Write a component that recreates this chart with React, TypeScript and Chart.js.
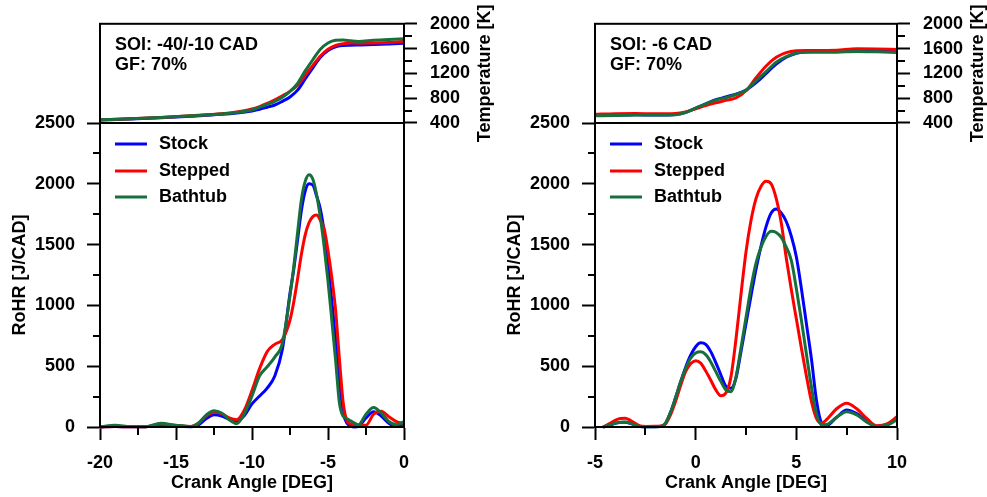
import React, { useEffect, useRef } from 'react';
import { Chart, registerables } from 'chart.js';

Chart.register(...registerables);

const W = 987;
const H = 497;
const FAMILY = "'Liberation Sans', Arial, Helvetica, sans-serif";
const FONT_SIZE = 18;
const FONT = { family: FAMILY, size: FONT_SIZE, weight: 'bold' as const };

const seriesNames = ['Stock', 'Stepped', 'Bathtub'];
const seriesColors = ['#0000FF', '#FF0000', '#17703B'];

// ---------- Left panel: SOI -40/-10 CAD ----------
const leftAngles = [-20, -19, -18, -17, -16, -15, -14, -13.5, -13, -12.5, -12, -11.5, -11, -10.5, -10, -9.5, -9, -8.5, -8, -7.5, -7.25, -7, -6.75, -6.5, -6.25, -6, -5.75, -5.5, -5.25, -5, -4.75, -4.5, -4.25, -4, -3.75, -3.5, -3.25, -3, -2.5, -2, -1.5, -1, -0.5, 0];
const leftStockRoHR = [0, 4, 2, 3, 15, 6, 3, 20, 70, 100, 90, 62, 50, 95, 190, 255, 320, 420, 640, 1100, 1300, 1540, 1780, 1940, 2000, 1990, 1900, 1790, 1600, 1330, 1040, 720, 380, 120, 30, 8, 0, 5, 75, 125, 90, 30, 5, 30];
const leftSteppedRoHR = [0, 4, 2, 2, 25, 12, 5, 30, 90, 122, 110, 75, 60, 140, 300, 480, 620, 680, 720, 880, 1030, 1220, 1420, 1580, 1680, 1730, 1743, 1700, 1630, 1450, 1230, 960, 560, 200, 50, 25, 18, 15, 15, 105, 130, 85, 45, 30];
const leftBathtubRoHR = [0, 14, 4, 3, 30, 15, 5, 35, 100, 134, 115, 60, 28, 110, 255, 420, 495, 575, 690, 1080, 1320, 1600, 1870, 2020, 2075, 2040, 1910, 1720, 1480, 1200, 880, 550, 200, 88, 68, 50, 32, 18, 105, 160, 115, 45, 18, 45];

const leftTempAngles = [-20, -18, -16, -14, -12, -11, -10, -9.5, -9, -8.5, -8, -7.5, -7, -6.5, -6, -5.5, -5, -4.5, -4, -3.5, -3, -2, -1, 0];
const leftStockTemp = [448, 465, 485, 510, 540, 562, 595, 620, 655, 690, 750, 820, 930, 1110, 1290, 1460, 1570, 1630, 1650, 1655, 1658, 1665, 1675, 1687];
const leftSteppedTemp = [451, 468, 490, 518, 550, 578, 625, 665, 715, 775, 840, 910, 1010, 1170, 1330, 1480, 1590, 1650, 1680, 1690, 1688, 1690, 1700, 1719];
const leftBathtubTemp = [451, 468, 490, 515, 545, 570, 610, 655, 700, 750, 815, 910, 1040, 1240, 1420, 1590, 1690, 1735, 1740, 1725, 1715, 1735, 1748, 1757];

// ---------- Right panel: SOI -6 CAD ----------
const rightAngles = [-4.6, -4.25, -4, -3.75, -3.5, -3.25, -3, -2.75, -2.5, -2, -1.75, -1.5, -1.25, -1, -0.75, -0.5, -0.25, 0, 0.25, 0.5, 0.75, 1, 1.25, 1.5, 1.75, 2, 2.25, 2.5, 2.75, 3, 3.25, 3.5, 3.75, 4, 4.25, 4.5, 4.75, 5, 5.25, 5.5, 5.75, 6, 6.25, 6.5, 7, 7.5, 8, 8.5, 9, 9.5, 10];
const rightStockRoHR = [0, 15, 30, 38, 40, 30, 15, 5, 3, 3, 4, 30, 120, 240, 370, 490, 590, 660, 692, 680, 620, 530, 430, 335, 318, 400, 620, 850, 1080, 1300, 1490, 1650, 1760, 1793, 1760, 1690, 1570, 1400, 1140, 850, 560, 220, 35, 12, 80, 140, 110, 45, 5, 15, 65];
const rightSteppedRoHR = [0, 30, 55, 70, 72, 55, 30, 8, 5, 6, 8, 25, 100, 210, 340, 455, 520, 545, 525, 460, 385, 305, 257, 280, 410, 720, 1090, 1440, 1700, 1880, 1980, 2020, 2000, 1880, 1680, 1390, 1130, 890, 650, 420, 210, 70, 30, 60, 150, 195, 150, 70, 10, 25, 85];
const rightBathtubRoHR = [0, 18, 32, 40, 42, 32, 15, 5, 3, 3, 4, 30, 120, 240, 370, 480, 565, 608, 618, 595, 535, 455, 375, 305, 290, 410, 650, 900, 1150, 1350, 1480, 1570, 1610, 1600, 1560, 1480, 1370, 1140, 880, 600, 330, 110, 18, 20, 80, 126, 100, 40, 5, 15, 60];

const rightTempAngles = [-5, -4, -3, -2, -1, -0.5, 0, 0.5, 1, 1.5, 2, 2.5, 3, 3.5, 4, 4.5, 5, 5.5, 6, 7, 8, 9, 10];
const rightStockTemp = [520, 525, 532, 530, 538, 572, 640, 710, 775, 820, 865, 930, 1050, 1200, 1350, 1460, 1525, 1548, 1552, 1560, 1575, 1580, 1582];
const rightSteppedTemp = [540, 550, 552, 550, 555, 580, 630, 680, 725, 765, 805, 920, 1130, 1320, 1460, 1535, 1565, 1570, 1568, 1575, 1597, 1595, 1587];
const rightBathtubTemp = [515, 522, 530, 528, 535, 570, 640, 710, 770, 810, 860, 930, 1080, 1230, 1380, 1470, 1530, 1540, 1540, 1542, 1555, 1548, 1539];

// ---------- Axes ----------
const rohrMinorTicks = [250, 750, 1250, 1750, 2250];
const tempMinorTicks = [600, 1000, 1400, 1800];
const leftMinorAngles = [-17.5, -12.5, -7.5, -2.5];
const rightMinorAngles = [-2.5, 2.5, 7.5];

const leftNotes = ['SOI: -40/-10 CAD', 'GF: 70%'];
const rightNotes = ['SOI: -6 CAD', 'GF: 70%'];

type Box = { left: number; right: number; top: number; bottom: number };

function makeDatasets(xs: number[], ys: number[][]) {
  return ys.map((arr, i) => ({
    label: seriesNames[i],
    data: xs.map((x, j) => ({ x, y: arr[j] })),
    borderColor: seriesColors[i],
    backgroundColor: seriesColors[i],
    borderWidth: 3,
    pointRadius: 0,
    cubicInterpolationMode: 'monotone' as const,
    order: 2 - i,
    clip: false as const,
  }));
}

type Decor = {
  minorX?: number[];
  minorY?: number[];
  yRight?: boolean;
  legend?: boolean;
  notes?: string[];
  rightTitle?: string;
};

function decorPlugin(d: Decor) {
  return {
    id: 'decor',
    afterDraw(chart: any) {
      const { ctx, chartArea: a, scales } = chart;
      ctx.save();
      ctx.strokeStyle = '#000';
      ctx.lineWidth = 2;
      ctx.strokeRect(a.left, a.top, a.right - a.left, a.bottom - a.top);
      ctx.beginPath();
      (d.minorX || []).forEach((v) => {
        const x = Math.round(scales.x.getPixelForValue(v));
        ctx.moveTo(x, a.bottom);
        ctx.lineTo(x, a.bottom + 8);
      });
      (d.minorY || []).forEach((v) => {
        const y = Math.round(scales.y.getPixelForValue(v));
        if (d.yRight) {
          ctx.moveTo(a.right, y);
          ctx.lineTo(a.right + 8, y);
        } else {
          ctx.moveTo(a.left - 7, y);
          ctx.lineTo(a.left, y);
        }
      });
      ctx.stroke();
      ctx.fillStyle = '#000';
      ctx.font = `bold ${FONT_SIZE}px ${FAMILY}`;
      ctx.textBaseline = 'middle';
      ctx.textAlign = 'left';
      if (d.notes) {
        d.notes.forEach((t, i) => ctx.fillText(t, a.left + 15, a.top + 21 + i * 20));
      }
      if (d.legend) {
        chart.data.datasets.forEach((ds: any, i: number) => {
          const y = Math.round(a.top + 21 + i * 26.5);
          ctx.strokeStyle = ds.borderColor;
          ctx.lineWidth = 3;
          ctx.beginPath();
          ctx.moveTo(a.left + 15, y);
          ctx.lineTo(a.left + 47, y);
          ctx.stroke();
          ctx.fillText(ds.label, a.left + 59, y);
        });
      }
      if (d.rightTitle) {
        ctx.translate(a.right + 81, (a.top + a.bottom) / 2);
        ctx.rotate(-Math.PI / 2);
        ctx.textAlign = 'center';
        ctx.fillText(d.rightTitle, 0, 0);
      }
      ctx.restore();
    },
  };
}

const axisGrid = { drawOnChartArea: false, tickLength: 13, tickWidth: 2, tickColor: '#000' };
const axisBorder = { color: '#000', width: 2 };

function rohrConfig(xs: number[], ys: number[][], xMin: number, xMax: number, box: Box, minorX: number[]): any {
  return {
    type: 'line',
    data: { datasets: makeDatasets(xs, ys) },
    options: {
      responsive: false,
      animation: false,
      devicePixelRatio: 1,
      layout: { padding: { left: box.left - 100, right: W - box.right, top: box.top, bottom: H - box.bottom - 70 } },
      plugins: { legend: { display: false }, tooltip: { enabled: false } },
      scales: {
        x: {
          type: 'linear',
          min: xMin,
          max: xMax,
          ticks: { stepSize: 5, font: FONT, color: '#000', padding: 12, maxRotation: 0, callback: (v: any) => String(v) },
          grid: axisGrid,
          border: axisBorder,
          title: { display: true, text: 'Crank Angle [DEG]', font: FONT, color: '#000', padding: { top: 0, bottom: 3 } },
          afterFit: (s: any) => { s.height = 70; },
        },
        y: {
          type: 'linear',
          min: 0,
          max: 2500,
          ticks: { stepSize: 500, font: FONT, color: '#000', padding: 12, callback: (v: any) => String(v) },
          grid: axisGrid,
          border: axisBorder,
          title: { display: true, text: 'RoHR [J/CAD]', font: FONT, color: '#000', padding: { top: 9, bottom: 0 } },
          afterFit: (s: any) => { s.width = 100; },
        },
      },
    },
    plugins: [decorPlugin({ minorX, minorY: rohrMinorTicks, legend: true })],
  };
}

function tempConfig(xs: number[], ys: number[][], xMin: number, xMax: number, box: Box, notes: string[]): any {
  return {
    type: 'line',
    data: { datasets: makeDatasets(xs, ys) },
    options: {
      responsive: false,
      animation: false,
      devicePixelRatio: 1,
      layout: { padding: { left: box.left, right: W - box.right - 85, top: box.top, bottom: H - box.bottom } },
      plugins: { legend: { display: false }, tooltip: { enabled: false } },
      scales: {
        x: { type: 'linear', min: xMin, max: xMax, display: false },
        y: {
          type: 'linear',
          position: 'right',
          min: 400,
          max: 2000,
          ticks: { stepSize: 400, font: FONT, color: '#000', padding: 13, callback: (v: any) => String(v) },
          grid: axisGrid,
          border: axisBorder,
          afterFit: (s: any) => { s.width = 85; },
        },
      },
    },
    plugins: [decorPlugin({ minorY: tempMinorTicks, yRight: true, notes, rightTitle: 'Temperature [K]' })],
  };
}

export default function App() {
  const r0 = useRef<HTMLCanvasElement>(null);
  const r1 = useRef<HTMLCanvasElement>(null);
  const r2 = useRef<HTMLCanvasElement>(null);
  const r3 = useRef<HTMLCanvasElement>(null);
  const refs = [r0, r1, r2, r3];

  useEffect(() => {
    const configs = [
      tempConfig(leftTempAngles, [leftStockTemp, leftSteppedTemp, leftBathtubTemp], -20, 0,
        { left: 100, right: 404, top: 22, bottom: 123 }, leftNotes),
      rohrConfig(leftAngles, [leftStockRoHR, leftSteppedRoHR, leftBathtubRoHR], -20, 0,
        { left: 100, right: 404, top: 123, bottom: 427 }, leftMinorAngles),
      tempConfig(rightTempAngles, [rightStockTemp, rightSteppedTemp, rightBathtubTemp], -5, 10,
        { left: 595, right: 897, top: 22, bottom: 123 }, rightNotes),
      rohrConfig(rightAngles, [rightStockRoHR, rightSteppedRoHR, rightBathtubRoHR], -5, 10,
        { left: 595, right: 897, top: 123, bottom: 427 }, rightMinorAngles),
    ];
    const charts = configs.map((c, i) => new Chart(refs[i].current as HTMLCanvasElement, c));
    return () => charts.forEach((c) => c.destroy());
  }, []);

  return (
    <div style={{ position: 'fixed', left: 0, top: 0, width: W, height: H, background: '#fff' }}>
      {refs.map((r, i) => (
        <canvas
          key={i}
          ref={r}
          width={W}
          height={H}
          style={{ position: 'absolute', left: 0, top: 0, width: W, height: H }}
        />
      ))}
    </div>
  );
}
